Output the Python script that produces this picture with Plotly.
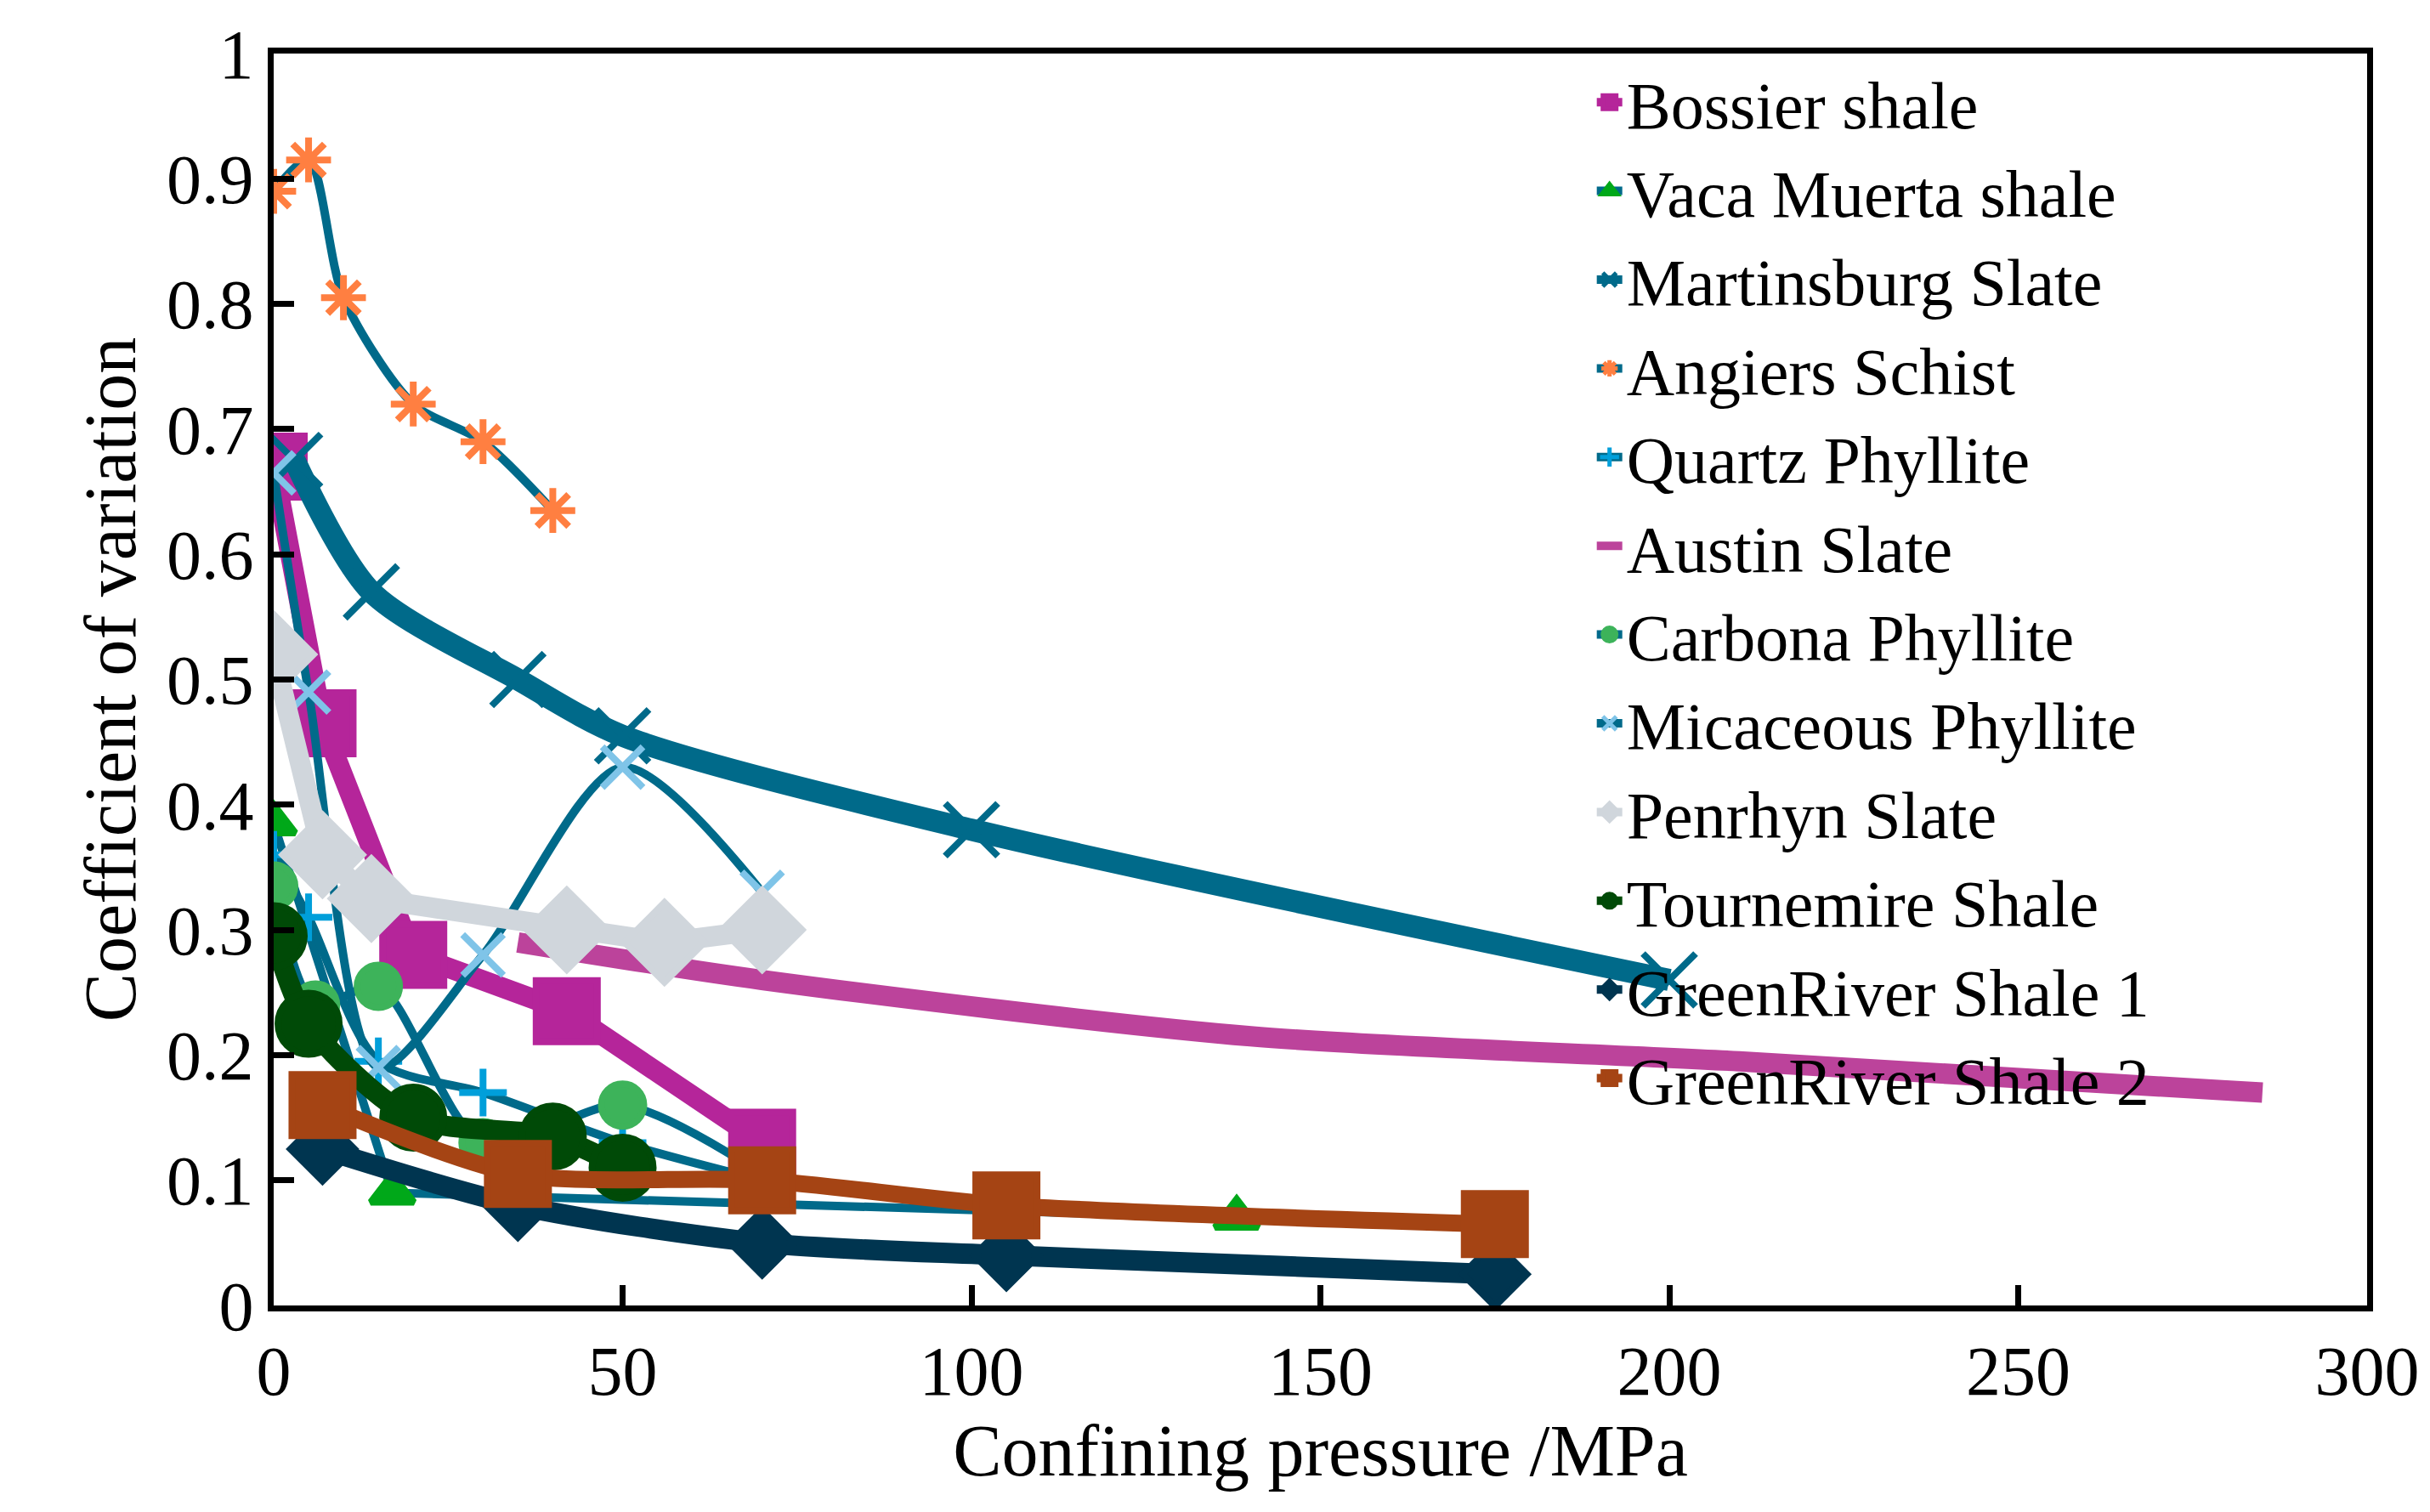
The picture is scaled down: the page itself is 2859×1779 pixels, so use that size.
import plotly.graph_objects as go

# data (confining pressure MPa, coefficient of variation)
bossier_x = [0, 7, 20, 42, 70]
bossier_y = [0.67, 0.465, 0.28, 0.235, 0.13]
vaca_x = [0, 17, 138]
vaca_y = [0.385, 0.09, 0.07]
martins_x = [3, 14, 35, 50, 100, 200]
martins_y = [0.675, 0.57, 0.50, 0.455, 0.38, 0.26]
angiers_x = [0, 5, 10, 20, 30, 40]
angiers_y = [0.89, 0.915, 0.805, 0.72, 0.69, 0.635]
quartz_x = [0, 5, 15, 30, 50, 70]
quartz_y = [0.36, 0.31, 0.195, 0.17, 0.13, 0.10]
austin_x = [35, 70, 140, 210, 285]
austin_y = [0.29, 0.26, 0.215, 0.195, 0.17]
carbona_x = [0, 6, 15, 30, 50, 70]
carbona_y = [0.335, 0.24, 0.255, 0.13, 0.16, 0.105]
mica_x = [0, 5, 15, 30, 50, 70]
mica_y = [0.665, 0.49, 0.19, 0.28, 0.43, 0.33]
penrhyn_x = [0, 7, 14, 42, 56, 70]
penrhyn_y = [0.52, 0.36, 0.325, 0.30, 0.29, 0.30]
tourn_x = [0, 5, 20, 40, 50]
tourn_y = [0.295, 0.225, 0.15, 0.135, 0.11]
gr1_x = [7, 35, 70, 105, 175]
gr1_y = [0.125, 0.08, 0.05, 0.04, 0.025]
gr2_x = [7, 35, 70, 105, 175]
gr2_y = [0.16, 0.105, 0.10, 0.08, 0.065]

TEAL = '#006A8A'

# name, x, y, line colour, line width, shape, marker symbol, marker colour, marker size
series = [
    ('Bossier shale', bossier_x, bossier_y, '#B5259A', 24, 'linear', 'square', '#B5259A', 72),
    ('Vaca Muerta shale', vaca_x, vaca_y, TEAL, 10, 'linear', 'triangle-up', '#00A819', 44),
    ('Martinsburg Slate', martins_x, martins_y, TEAL, 26, 'spline', 'x-thin', TEAL, 62),
    ('Angiers Schist', angiers_x, angiers_y, TEAL, 10, 'spline', 'asterisk', '#FF7F41', 44),
    ('Quartz Phyllite', quartz_x, quartz_y, TEAL, 10, 'spline', 'cross-thin', '#009FDA', 40),
    ('Austin Slate', austin_x, austin_y, '#BC439B', 24, 'spline', None, None, 0),
    ('Carbona Phyllite', carbona_x, carbona_y, TEAL, 10, 'spline', 'circle', '#3DB35A', 50),
    ('Micaceous Phyllite', mica_x, mica_y, TEAL, 10, 'spline', 'x-thin', '#7FC4E8', 48),
    ('Penrhyn Slate', penrhyn_x, penrhyn_y, '#D0D6DC', 24, 'linear', 'diamond', '#D0D6DC', 72),
    ('Tournemire Shale', tourn_x, tourn_y, '#004A07', 24, 'spline', 'circle', '#004A07', 72),
    ('GreenRiver Shale 1', gr1_x, gr1_y, '#003550', 24, 'spline', 'diamond', '#003550', 58),
    ('GreenRiver Shale 2', gr2_x, gr2_y, '#A54414', 20, 'spline', 'square', '#A54414', 72),
]

fig = go.Figure()
for name, xs, ys, lc, lw, shape, sym, mc, ms in series:
    if sym is None:
        fig.add_trace(go.Scatter(x=xs, y=ys, name=name, mode='lines',
                                 line=dict(color=lc, width=lw, shape=shape, smoothing=0.8)))
    else:
        fig.add_trace(go.Scatter(x=xs, y=ys, name=name, mode='lines+markers',
                                 line=dict(color=lc, width=lw, shape=shape, smoothing=0.8),
                                 marker=dict(symbol=sym, color=mc, size=ms,
                                             line=dict(color=mc, width=8))))

axis_common = dict(showline=True, linecolor='black', linewidth=7, mirror=True,
                   ticks='inside', ticklen=24, tickwidth=7, tickcolor='black',
                   showgrid=False, zeroline=False,
                   tickfont=dict(family='Liberation Serif', size=82, color='black'))

fig.update_layout(
    width=2859, height=1779,
    paper_bgcolor='white', plot_bgcolor='white',
    margin=dict(l=314, r=82, t=55, b=251),
    font=dict(family='Liberation Serif', color='black'),
    xaxis=dict(range=[0, 300], dtick=50,
               title=dict(text='Confining pressure /MPa', font=dict(size=86), standoff=5),
               **axis_common),
    yaxis=dict(range=[0, 1], dtick=0.1, tickformat='~g',
               title=dict(text='Coefficient of variation', font=dict(size=86), standoff=10),
               **axis_common),
    legend=dict(x=0.63, y=1.0, xanchor='left', yanchor='top',
                bgcolor='rgba(0,0,0,0)', font=dict(size=78), itemsizing='trace',
                tracegroupgap=0),
)

fig.write_html("out.html")
